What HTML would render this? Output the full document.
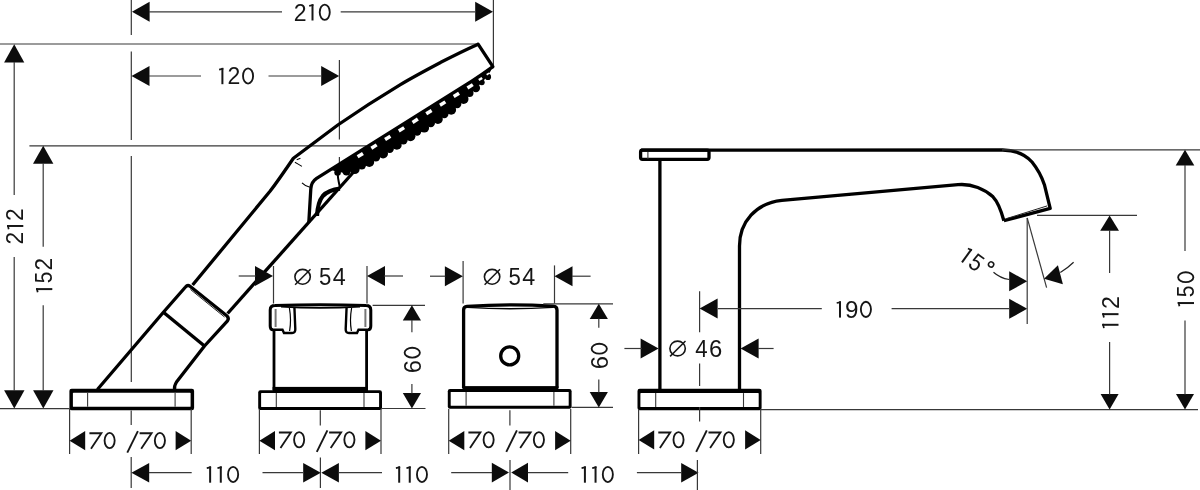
<!DOCTYPE html>
<html><head><meta charset="utf-8"><title>Dimension drawing</title>
<style>
html,body{margin:0;padding:0;background:#fff;}
body{width:1200px;height:490px;overflow:hidden;font-family:"Liberation Sans",sans-serif;}
svg{display:block;filter:grayscale(1);}
svg text{font-family:"Liberation Sans",sans-serif;fill:#161616;}
</style></head><body>
<svg width="1200" height="490" viewBox="0 0 1200 490">
<rect width="1200" height="490" fill="#fff"/>
<line x1="131.3" y1="0" x2="131.3" y2="35" stroke="#383838" stroke-width="1.2" />
<line x1="131.3" y1="51.5" x2="131.3" y2="140" stroke="#383838" stroke-width="1.2" />
<line x1="131.3" y1="156" x2="131.3" y2="382" stroke="#383838" stroke-width="1.2" />
<line x1="493.4" y1="0" x2="493.4" y2="65" stroke="#383838" stroke-width="1.2" />
<polygon points="132.0,11.8 149.6,1.8 149.6,21.8" fill="#0c0c0c"/>
<polygon points="493.0,11.8 475.2,1.8 475.2,21.8" fill="#0c0c0c"/>
<line x1="149" y1="11.8" x2="282" y2="11.8" stroke="#383838" stroke-width="1.2" />
<line x1="340.7" y1="11.8" x2="475.4" y2="11.8" stroke="#383838" stroke-width="1.2" />
<text transform="translate(293.64,20.50) scale(0.977,1.001)" font-size="23.6">2</text><path d="M312.50,20.50 L312.50,4.20" stroke="#161616" stroke-width="2" fill="none"/><path d="M309.20,5.90 L313.40,5.00" stroke="#161616" stroke-width="1.7" fill="none"/><ellipse cx="324.75" cy="12.25" rx="5.02" ry="7.63" fill="none" stroke="#161616" stroke-width="1.85"/>
<line x1="0" y1="44" x2="476" y2="44" stroke="#383838" stroke-width="1.2" />
<polygon points="131.5,76.0 149.5,66.0 149.5,86.0" fill="#0c0c0c"/>
<polygon points="339.2,76.0 321.2,66.0 321.2,86.0" fill="#0c0c0c"/>
<line x1="149" y1="76" x2="201" y2="76" stroke="#383838" stroke-width="1.2" />
<line x1="268.5" y1="76" x2="321" y2="76" stroke="#383838" stroke-width="1.2" />
<path d="M222.40,84.20 L222.40,67.90" stroke="#161616" stroke-width="2" fill="none"/><path d="M219.10,69.60 L223.30,68.70" stroke="#161616" stroke-width="1.7" fill="none"/><text transform="translate(227.54,84.20) scale(0.977,1.001)" font-size="23.6">2</text><ellipse cx="248.05" cy="75.95" rx="5.03" ry="7.63" fill="none" stroke="#161616" stroke-width="1.85"/>
<line x1="339.4" y1="60" x2="339.4" y2="139.4" stroke="#383838" stroke-width="1.2" />
<line x1="339.4" y1="157" x2="339.4" y2="166" stroke="#383838" stroke-width="1.2" />
<line x1="29.4" y1="145.8" x2="366.5" y2="145.8" stroke="#383838" stroke-width="1.2" />
<polygon points="14.2,44.3 4.1,62.5 24.3,62.5" fill="#0c0c0c"/>
<polygon points="14.3,408.6 4.1,390.2 24.5,390.2" fill="#0c0c0c"/>
<line x1="14.2" y1="62" x2="14.2" y2="195" stroke="#383838" stroke-width="1.2" />
<line x1="14.2" y1="257" x2="14.2" y2="391" stroke="#383838" stroke-width="1.2" />
<g transform="translate(23.3,243.4) rotate(-90)"><text transform="translate(-1.14,0.00) scale(0.962,1.001)" font-size="23.6">2</text><path d="M17.43,0.00 L17.43,-16.30" stroke="#161616" stroke-width="2" fill="none"/><path d="M14.19,-14.60 L18.33,-15.50" stroke="#161616" stroke-width="1.7" fill="none"/><text transform="translate(22.51,0.00) scale(0.962,1.001)" font-size="23.6">2</text></g>
<polygon points="43.2,145.8 33.0,163.8 53.4,163.8" fill="#0c0c0c"/>
<polygon points="43.3,408.6 33.1,390.2 53.5,390.2" fill="#0c0c0c"/>
<line x1="43.2" y1="163" x2="43.2" y2="246.7" stroke="#383838" stroke-width="1.2" />
<line x1="43.2" y1="305.3" x2="43.2" y2="391" stroke="#383838" stroke-width="1.2" />
<g transform="translate(52.3,292.3) rotate(-90)"><path d="M3.20,0.00 L3.20,-16.30" stroke="#161616" stroke-width="2" fill="none"/><path d="M0.00,-14.60 L4.10,-15.50" stroke="#161616" stroke-width="1.7" fill="none"/><text transform="translate(9.03,0.01) scale(0.881,1.032)" font-size="23.6">5</text><text transform="translate(21.72,0.00) scale(0.954,1.001)" font-size="23.6">2</text></g>
<line x1="0" y1="408.6" x2="69.6" y2="408.6" stroke="#383838" stroke-width="1.2" />
<path d="M478.1,44.2 L492.9,66.6" stroke="#000" stroke-width="3.3" fill="none" stroke-linecap="round"/>
<path d="M478.1,44.2 C466,49.6 453,56 440.8,62.3 C427,69.6 413,77 400,84.8 C378,98 358,111 337.8,125 L293.4,158.2 C288.5,165.3 279,179.5 270,191.3 L192.6,285" stroke="#000" stroke-width="3.3" fill="none" stroke-linejoin="round"/>
<path d="M492.9,66.6 Q482,74.5 471.8,81.2 L316.6,178.4 Q311.2,182 310.8,189 L308.8,222.5" stroke="#000" stroke-width="3.3" fill="none" stroke-linejoin="round"/>
<polygon points="490.4,69.5 484.5,73.2 478.6,77.0 472.6,80.7 466.7,84.4 460.8,88.1 454.8,91.8 448.9,95.5 443.0,99.2 437.1,103.0 431.1,106.7 425.2,110.4 419.3,114.1 413.3,117.8 407.4,121.5 401.5,125.3 395.5,129.0 389.6,132.7 383.7,136.4 377.7,140.1 371.8,143.8 365.9,147.5 359.9,151.3 354.0,155.0 348.1,158.7 342.1,162.4 336.2,166.1 330.3,169.8 330.3,169.8 334.5,170.9 338.7,172.0 342.5,172.4 346.3,172.8 349.2,171.8 352.2,170.9 355.1,169.9 357.9,168.7 360.6,167.4 363.3,166.0 366.0,164.7 368.7,163.4 371.3,161.9 373.8,160.3 376.4,158.7 378.9,157.1 381.5,155.5 384.0,153.9 386.5,152.3 389.1,150.7 391.6,149.1 394.2,147.5 396.7,145.9 399.2,144.3 401.8,142.7 404.3,141.2 406.9,139.6 409.4,138.0 412.0,136.4 414.5,134.8 417.0,133.2 419.6,131.6 422.1,130.0 424.7,128.4 427.2,126.8 429.8,125.2 432.3,123.6 434.8,122.0 437.4,120.5 439.8,118.7 442.3,117.0 444.8,115.3 447.2,113.6 449.7,111.9 452.2,110.1 454.6,108.3 456.8,106.2 459.1,104.2 461.3,102.1 463.6,100.1 465.8,98.0 468.1,95.9 470.3,93.8 472.5,91.7 474.7,89.5 476.9,87.4 479.0,85.2 481.2,83.0 483.3,80.8 485.5,78.5 487.5,76.1 489.2,73.2 491.0,70.4" fill="#000"/>
<circle cx="488.0" cy="76.9" r="3.1" fill="#000"/>
<circle cx="481.8" cy="82.3" r="2.9" fill="#000"/>
<circle cx="475.9" cy="88.1" r="4.2" fill="#000"/>
<circle cx="469.4" cy="93.0" r="4.1" fill="#000"/>
<circle cx="463.6" cy="99.0" r="4.9" fill="#000"/>
<circle cx="457.2" cy="104.1" r="4.2" fill="#000"/>
<circle cx="451.2" cy="109.8" r="4.9" fill="#000"/>
<circle cx="444.3" cy="114.0" r="4.2" fill="#000"/>
<circle cx="437.9" cy="119.1" r="4.9" fill="#000"/>
<circle cx="430.8" cy="123.0" r="4.2" fill="#000"/>
<circle cx="424.2" cy="127.7" r="4.9" fill="#000"/>
<circle cx="417.1" cy="131.6" r="4.2" fill="#000"/>
<circle cx="410.5" cy="136.3" r="4.9" fill="#000"/>
<circle cx="403.4" cy="140.2" r="4.2" fill="#000"/>
<circle cx="396.8" cy="144.9" r="4.9" fill="#000"/>
<circle cx="389.7" cy="148.8" r="4.2" fill="#000"/>
<circle cx="383.1" cy="153.5" r="4.9" fill="#000"/>
<circle cx="375.9" cy="157.4" r="4.2" fill="#000"/>
<circle cx="369.3" cy="162.1" r="4.9" fill="#000"/>
<circle cx="361.8" cy="165.3" r="4.2" fill="#000"/>
<circle cx="354.7" cy="169.2" r="4.9" fill="#000"/>
<circle cx="346.5" cy="171.4" r="4.2" fill="#000"/>
<circle cx="337.6" cy="172.5" r="3.3" fill="#000"/>
<polygon points="471.9,83.2 466.5,86.5 468.4,89.5 473.7,86.1" fill="#fff"/>
<polygon points="458.1,91.8 452.8,95.1 454.6,98.1 460.0,94.7" fill="#fff"/>
<polygon points="444.4,100.4 439.1,103.7 440.9,106.7 446.3,103.3" fill="#fff"/>
<polygon points="430.7,109.0 425.3,112.3 427.2,115.3 432.5,111.9" fill="#fff"/>
<polygon points="416.9,117.6 411.6,120.9 413.5,123.9 418.8,120.5" fill="#fff"/>
<polygon points="403.2,126.2 397.9,129.5 399.7,132.5 405.1,129.1" fill="#fff"/>
<polygon points="389.5,134.8 384.1,138.1 386.0,141.1 391.3,137.7" fill="#fff"/>
<polygon points="375.7,143.4 370.4,146.7 372.3,149.7 377.6,146.3" fill="#fff"/>
<polygon points="362.0,152.0 356.7,155.3 358.5,158.3 363.9,154.9" fill="#fff"/>
<polygon points="481.5,77.0 478.2,79.1 479.4,81.1 482.8,79.0" fill="#fff"/>
<polygon points="488.8,72.5 486.2,74.1 487.1,75.4 489.6,73.8" fill="#fff"/>
<path d="M354,171.5 L227.6,313.5" stroke="#000" stroke-width="3.3" fill="none" />
<path d="M340,188.6 C331,189.5 326,192.5 322.8,196 C319,200.5 317.4,208 317,216" stroke="#000" stroke-width="4.2" fill="none" />
<path d="M338.6,170 C336.5,175 338.5,180 339.6,186" stroke="#000" stroke-width="2" fill="none" />
<path d="M294.9,162.3 Q298,164 301.9,166.4" stroke="#000" stroke-width="1.1" fill="none" />
<path d="M296.7,159.7 L300.4,158.2" stroke="#000" stroke-width="1.1" fill="none" />
<path d="M302,182.9 Q305.5,186.5 310,187.2" stroke="#000" stroke-width="1.1" fill="none" />
<path d="M97.4,389.5 L163.4,312.3 L185.5,287 Q187.6,284.4 190,286.3 L226.5,315.5 Q229.5,318 227.5,320.8 L204.5,346 L176.5,382 Q174,386 174.6,389.5" stroke="#000" stroke-width="3.3" fill="none" stroke-linejoin="round"/>
<path d="M163.4,312.3 L204.5,346" stroke="#000" stroke-width="3.4" fill="none" />
<path d="M190.5,289.5 L224.5,317" stroke="#222" stroke-width="1.0" fill="none" />
<rect x="69.4" y="388.7" width="124.70" height="21.50" rx="2.2" fill="#000"/>
<rect x="72.90" y="392.8" width="117.70" height="14.00" rx="0.6" fill="#fff"/>
<line x1="87.6" y1="392.8" x2="87.6" y2="406.8" stroke="#383838" stroke-width="1.1" />
<line x1="175.1" y1="392.8" x2="175.1" y2="406.8" stroke="#383838" stroke-width="1.1" />
<line x1="69.6" y1="409" x2="69.6" y2="454" stroke="#383838" stroke-width="1.2" />
<line x1="191.2" y1="409" x2="191.2" y2="454" stroke="#383838" stroke-width="1.2" />
<polygon points="69.6,440.7 85.2,431.1 85.2,450.3" fill="#0c0c0c"/>
<polygon points="191.2,440.7 175.6,431.1 175.6,450.3" fill="#0c0c0c"/>
<path d="M89.40,433.25 L101.35,433.25 L91.00,448.80" fill="none" stroke="#161616" stroke-width="1.85" stroke-linejoin="miter" stroke-miterlimit="10"/><ellipse cx="109.63" cy="440.55" rx="5.05" ry="7.63" fill="none" stroke="#161616" stroke-width="1.85"/>
<line x1="127.30000000000001" y1="452.6" x2="137.89999999999998" y2="431.2" stroke="#161616" stroke-width="1.9" />
<path d="M139.60,433.25 L151.59,433.25 L141.20,448.80" fill="none" stroke="#161616" stroke-width="1.85" stroke-linejoin="miter" stroke-miterlimit="10"/><ellipse cx="159.90" cy="440.55" rx="5.07" ry="7.63" fill="none" stroke="#161616" stroke-width="1.85"/>
<line x1="131.2" y1="410.4" x2="131.2" y2="425" stroke="#383838" stroke-width="1.2" />
<line x1="131.2" y1="457" x2="131.2" y2="488" stroke="#383838" stroke-width="1.2" />
<polygon points="131.4,472.7 149.2,462.9 149.2,482.5" fill="#0c0c0c"/>
<polygon points="320.8,472.7 303.2,462.9 303.2,482.5" fill="#0c0c0c"/>
<line x1="149" y1="472.7" x2="191.7" y2="472.7" stroke="#383838" stroke-width="1.2" />
<line x1="262.5" y1="472.7" x2="303.4" y2="472.7" stroke="#383838" stroke-width="1.2" />
<path d="M210.13,482.70 L210.13,466.40" stroke="#161616" stroke-width="2" fill="none"/><path d="M206.80,468.10 L211.03,467.20" stroke="#161616" stroke-width="1.7" fill="none"/><path d="M220.79,482.70 L220.79,466.40" stroke="#161616" stroke-width="2" fill="none"/><path d="M217.47,468.10 L221.69,467.20" stroke="#161616" stroke-width="1.7" fill="none"/><ellipse cx="233.11" cy="474.45" rx="5.06" ry="7.63" fill="none" stroke="#161616" stroke-width="1.85"/>
<line x1="273.5" y1="266" x2="273.5" y2="303.5" stroke="#383838" stroke-width="1.2" />
<line x1="367" y1="266" x2="367" y2="303.5" stroke="#383838" stroke-width="1.2" />
<polygon points="273.0,276.0 255.0,266.0 255.0,286.0" fill="#0c0c0c"/>
<polygon points="367.0,276.0 385.0,266.0 385.0,286.0" fill="#0c0c0c"/>
<line x1="238.7" y1="276" x2="256" y2="276" stroke="#383838" stroke-width="1.2" />
<line x1="384" y1="276" x2="403" y2="276" stroke="#383838" stroke-width="1.2" />
<ellipse cx="302.6" cy="276.8" rx="7.7" ry="7.4" fill="none" stroke="#161616" stroke-width="1.6"/>
<line x1="295.1" y1="284.7" x2="310.5" y2="269.3" stroke="#161616" stroke-width="1.5" />
<text transform="translate(319.01,285.01) scale(0.940,1.032)" font-size="23.6">5</text><text transform="translate(332.80,285.00) scale(0.989,1.016)" font-size="23.6">4</text>
<path d="M274,331 L274,390 M366.6,331 L366.6,390" stroke="#000" stroke-width="2.8" fill="none" />
<rect x="272.6" y="386.9" width="95.4" height="5" fill="#000"/>
<path d="M273,329.8 Q270.2,329.8 270.2,326 L270.2,310 Q270.2,305.6 275,305.6 Q320,303.8 366,305.6 Q370.8,305.6 370.8,310 L370.8,326 Q370.8,329.8 368,329.8" stroke="#000" stroke-width="3.0" fill="none" />
<path d="M281,306.6 Q320,309.2 360,306.6" stroke="#000" stroke-width="1.8" fill="none" />
<path d="M273,329.8 L282.5,329.8 L284,333 L292,333 Q295.5,333 295.3,329 L294.4,307 " stroke="#000" stroke-width="2.4" fill="none" />
<path d="M289.4,308 Q291.5,320 289.6,331" stroke="#000" stroke-width="1.2" fill="none" />
<path d="M275.6,309 L275.6,327" stroke="#777" stroke-width="2.0" fill="none" />
<path d="M368,329.8 L358.5,329.8 L357,333 L349,333 Q345.5,333 345.7,329 L346.6,307" stroke="#000" stroke-width="2.4" fill="none" />
<path d="M351.6,308 Q349.5,320 351.4,331" stroke="#000" stroke-width="1.2" fill="none" />
<path d="M365.4,309 L365.4,327" stroke="#777" stroke-width="2.0" fill="none" />
<rect x="258.2" y="390.2" width="123.80" height="19.70" rx="2.2" fill="#000"/>
<rect x="261.10" y="393.1" width="118.00" height="13.90" rx="0.6" fill="#fff"/>
<line x1="276.3" y1="393.1" x2="276.3" y2="407.0" stroke="#383838" stroke-width="1.1" />
<line x1="364.0" y1="393.1" x2="364.0" y2="407.0" stroke="#383838" stroke-width="1.1" />
<line x1="372.6" y1="305.3" x2="425" y2="305.3" stroke="#383838" stroke-width="1.2" />
<line x1="382" y1="408.5" x2="425.5" y2="408.5" stroke="#383838" stroke-width="1.2" />
<polygon points="411.9,305.3 402.8,320.6 421.0,320.6" fill="#0c0c0c"/>
<polygon points="411.9,408.5 402.8,393.1 421.0,393.1" fill="#0c0c0c"/>
<line x1="411.9" y1="320" x2="411.9" y2="332.3" stroke="#383838" stroke-width="1.2" />
<line x1="411.9" y1="384" x2="411.9" y2="393.5" stroke="#383838" stroke-width="1.2" />
<g transform="translate(420.5,372.0) rotate(-90)"><text transform="translate(-1.20,0.02) scale(1.003,1.017)" font-size="23.6">6</text><ellipse cx="19.34" cy="-8.25" rx="4.93" ry="7.63" fill="none" stroke="#161616" stroke-width="1.85"/></g>
<line x1="259.4" y1="409" x2="259.4" y2="454" stroke="#383838" stroke-width="1.2" />
<line x1="381" y1="409" x2="381" y2="454" stroke="#383838" stroke-width="1.2" />
<polygon points="259.4,440.7 275.0,431.1 275.0,450.3" fill="#0c0c0c"/>
<polygon points="381.0,440.7 365.4,431.1 365.4,450.3" fill="#0c0c0c"/>
<path d="M278.90,432.45 L290.85,432.45 L280.50,448.00" fill="none" stroke="#161616" stroke-width="1.85" stroke-linejoin="miter" stroke-miterlimit="10"/><ellipse cx="299.13" cy="439.75" rx="5.05" ry="7.63" fill="none" stroke="#161616" stroke-width="1.85"/>
<line x1="316.8" y1="451.8" x2="327.4" y2="430.4" stroke="#161616" stroke-width="1.9" />
<path d="M329.10,432.45 L341.09,432.45 L330.70,448.00" fill="none" stroke="#161616" stroke-width="1.85" stroke-linejoin="miter" stroke-miterlimit="10"/><ellipse cx="349.40" cy="439.75" rx="5.07" ry="7.63" fill="none" stroke="#161616" stroke-width="1.85"/>
<line x1="320.3" y1="410.3" x2="320.3" y2="425.4" stroke="#383838" stroke-width="1.2" />
<line x1="320.4" y1="457.5" x2="320.4" y2="488" stroke="#383838" stroke-width="1.2" />
<polygon points="321.3,472.7 338.9,462.9 338.9,482.5" fill="#0c0c0c"/>
<polygon points="509.0,472.6 491.8,462.8 491.8,482.4" fill="#0c0c0c"/>
<line x1="338.8" y1="472.7" x2="382" y2="472.7" stroke="#383838" stroke-width="1.2" />
<line x1="451.2" y1="472.7" x2="492" y2="472.7" stroke="#383838" stroke-width="1.2" />
<path d="M399.19,482.70 L399.19,466.40" stroke="#161616" stroke-width="2" fill="none"/><path d="M395.90,468.10 L400.09,467.20" stroke="#161616" stroke-width="1.7" fill="none"/><path d="M409.75,482.70 L409.75,466.40" stroke="#161616" stroke-width="2" fill="none"/><path d="M406.47,468.10 L410.65,467.20" stroke="#161616" stroke-width="1.7" fill="none"/><ellipse cx="421.97" cy="474.45" rx="5.01" ry="7.63" fill="none" stroke="#161616" stroke-width="1.85"/>
<line x1="463.1" y1="261" x2="463.1" y2="303.5" stroke="#383838" stroke-width="1.2" />
<line x1="554.5" y1="265.4" x2="554.5" y2="303.5" stroke="#383838" stroke-width="1.2" />
<polygon points="462.9,276.2 444.9,266.2 444.9,286.2" fill="#0c0c0c"/>
<polygon points="554.5,276.2 572.5,266.2 572.5,286.2" fill="#0c0c0c"/>
<line x1="430" y1="276.2" x2="445.4" y2="276.2" stroke="#383838" stroke-width="1.2" />
<line x1="572" y1="276.2" x2="590.6" y2="276.2" stroke="#383838" stroke-width="1.2" />
<ellipse cx="492.1" cy="276.8" rx="7.7" ry="7.4" fill="none" stroke="#161616" stroke-width="1.6"/>
<line x1="484.6" y1="284.7" x2="500.0" y2="269.3" stroke="#161616" stroke-width="1.5" />
<text transform="translate(508.51,285.01) scale(0.940,1.032)" font-size="23.6">5</text><text transform="translate(522.30,285.00) scale(0.989,1.016)" font-size="23.6">4</text>
<path d="M463.6,388 L463.6,310 Q463.6,306.6 467,306.4 Q510,303.4 553,306.2 Q557,306.4 557,310 L557,388" stroke="#000" stroke-width="3.3" fill="none" />
<path d="M467,307.4 Q510,310 553,307.4" stroke="#000" stroke-width="1.4" fill="none" />
<rect x="462.4" y="386.1" width="96" height="4.6" fill="#000"/>
<circle cx="509.7" cy="355.9" r="9" fill="none" stroke="#000" stroke-width="3.3"/>
<rect x="447.8" y="389.1" width="123.80" height="19.60" rx="2.2" fill="#000"/>
<rect x="450.70" y="391.9" width="118.00" height="13.90" rx="0.6" fill="#fff"/>
<line x1="466.1" y1="391.9" x2="466.1" y2="405.8" stroke="#383838" stroke-width="1.1" />
<line x1="553.9" y1="391.9" x2="553.9" y2="405.8" stroke="#383838" stroke-width="1.1" />
<line x1="543.3" y1="303.8" x2="613" y2="303.8" stroke="#383838" stroke-width="1.2" />
<line x1="571.5" y1="407.4" x2="613" y2="407.4" stroke="#383838" stroke-width="1.2" />
<polygon points="598.8,303.8 589.7,319.1 607.9,319.1" fill="#0c0c0c"/>
<polygon points="598.8,407.4 589.7,392.0 607.9,392.0" fill="#0c0c0c"/>
<line x1="598.8" y1="318.5" x2="598.8" y2="327.8" stroke="#383838" stroke-width="1.2" />
<line x1="598.8" y1="379.5" x2="598.8" y2="392.4" stroke="#383838" stroke-width="1.2" />
<g transform="translate(607.5,368.1) rotate(-90)"><text transform="translate(-1.21,0.02) scale(1.007,1.017)" font-size="23.6">6</text><ellipse cx="19.42" cy="-8.25" rx="4.96" ry="7.63" fill="none" stroke="#161616" stroke-width="1.85"/></g>
<line x1="448.7" y1="409" x2="448.7" y2="454" stroke="#383838" stroke-width="1.2" />
<line x1="570.7" y1="409" x2="570.7" y2="454" stroke="#383838" stroke-width="1.2" />
<polygon points="448.7,440.7 464.3,431.1 464.3,450.3" fill="#0c0c0c"/>
<polygon points="570.7,440.7 555.1,431.1 555.1,450.3" fill="#0c0c0c"/>
<path d="M468.40,432.45 L480.35,432.45 L470.00,448.00" fill="none" stroke="#161616" stroke-width="1.85" stroke-linejoin="miter" stroke-miterlimit="10"/><ellipse cx="488.63" cy="439.75" rx="5.05" ry="7.63" fill="none" stroke="#161616" stroke-width="1.85"/>
<line x1="506.3" y1="451.8" x2="516.9" y2="430.4" stroke="#161616" stroke-width="1.9" />
<path d="M518.60,432.45 L530.59,432.45 L520.20,448.00" fill="none" stroke="#161616" stroke-width="1.85" stroke-linejoin="miter" stroke-miterlimit="10"/><ellipse cx="538.90" cy="439.75" rx="5.07" ry="7.63" fill="none" stroke="#161616" stroke-width="1.85"/>
<line x1="509.9" y1="410.3" x2="509.9" y2="425.4" stroke="#383838" stroke-width="1.2" />
<line x1="510" y1="460" x2="510" y2="490" stroke="#383838" stroke-width="1.2" />
<polygon points="511.2,472.6 528.0,462.8 528.0,482.4" fill="#0c0c0c"/>
<polygon points="698.6,472.7 681.2,462.9 681.2,482.5" fill="#0c0c0c"/>
<line x1="527.8" y1="472.7" x2="568.2" y2="472.7" stroke="#383838" stroke-width="1.2" />
<line x1="636.9" y1="472.7" x2="681.3" y2="472.7" stroke="#383838" stroke-width="1.2" />
<path d="M584.91,482.70 L584.91,466.40" stroke="#161616" stroke-width="2" fill="none"/><path d="M581.60,468.10 L585.81,467.20" stroke="#161616" stroke-width="1.7" fill="none"/><path d="M595.55,482.70 L595.55,466.40" stroke="#161616" stroke-width="2" fill="none"/><path d="M592.23,468.10 L596.45,467.20" stroke="#161616" stroke-width="1.7" fill="none"/><ellipse cx="607.83" cy="474.45" rx="5.04" ry="7.63" fill="none" stroke="#161616" stroke-width="1.85"/>
<rect x="640.6" y="150.2" width="68.4" height="9.2" rx="1.8" fill="none" stroke="#000" stroke-width="3.3"/>
<line x1="647.9" y1="151" x2="647.9" y2="159" stroke="#383838" stroke-width="1.1" />
<path d="M659.9,160 L659.9,391" stroke="#000" stroke-width="3.3" fill="none" />
<path d="M641,150.2 L1002.6,150 C1016,150.3 1026,155 1032,162 C1038,169.5 1041.5,176 1044.4,184.7 L1050.2,208.4 L1003.9,220.7" stroke="#000" stroke-width="3.3" fill="none" stroke-linejoin="round"/>
<path d="M739.5,391 L739.5,246 C739.5,222 756,203 781.9,200.4 L958,184.7 C972,183.4 985,189.5 993,196.8 C998.5,202.5 1001,210 1003.9,220.7" stroke="#000" stroke-width="3.3" fill="none" />
<path d="M1006.5,218.6 L1047.2,205.9" stroke="#222" stroke-width="1.0" fill="none" />
<rect x="637.5" y="388.7" width="124.10" height="21.60" rx="2.2" fill="#000"/>
<rect x="640.40" y="393.1" width="118.30" height="13.90" rx="0.6" fill="#fff"/>
<line x1="655.7" y1="393.1" x2="655.7" y2="407.0" stroke="#383838" stroke-width="1.1" />
<line x1="743.5" y1="393.1" x2="743.5" y2="407.0" stroke="#383838" stroke-width="1.1" />
<line x1="761" y1="409.6" x2="1198" y2="409.6" stroke="#383838" stroke-width="1.2" />
<line x1="699.6" y1="291.2" x2="699.6" y2="332.3" stroke="#383838" stroke-width="1.2" />
<line x1="699.6" y1="363.4" x2="699.6" y2="386" stroke="#383838" stroke-width="1.2" />
<line x1="699.6" y1="407" x2="699.6" y2="421.5" stroke="#383838" stroke-width="1.2" />
<line x1="697.4" y1="460" x2="697.4" y2="490" stroke="#383838" stroke-width="1.2" />
<polygon points="658.6,348.5 640.6,338.5 640.6,358.5" fill="#0c0c0c"/>
<polygon points="740.6,348.5 758.6,338.5 758.6,358.5" fill="#0c0c0c"/>
<line x1="624.4" y1="348.5" x2="641.8" y2="348.5" stroke="#383838" stroke-width="1.2" />
<line x1="758" y1="348.5" x2="773.6" y2="348.5" stroke="#383838" stroke-width="1.2" />
<ellipse cx="677.6" cy="348.5" rx="7.7" ry="7.4" fill="none" stroke="#161616" stroke-width="1.6"/>
<line x1="670.1" y1="356.4" x2="685.5" y2="341.0" stroke="#161616" stroke-width="1.5" />
<text transform="translate(695.29,356.80) scale(0.943,1.016)" font-size="23.6">4</text><text transform="translate(708.88,356.82) scale(1.011,1.017)" font-size="23.6">6</text>
<polygon points="699.6,308.6 717.6,298.6 717.6,318.6" fill="#0c0c0c"/>
<polygon points="1027.2,308.8 1009.2,298.8 1009.2,318.8" fill="#0c0c0c"/>
<line x1="717.8" y1="308.6" x2="821.8" y2="308.6" stroke="#383838" stroke-width="1.2" />
<line x1="891.6" y1="308.6" x2="1009.2" y2="308.6" stroke="#383838" stroke-width="1.2" />
<path d="M840.02,317.60 L840.02,301.30" stroke="#161616" stroke-width="2" fill="none"/><path d="M836.70,303.00 L840.92,302.10" stroke="#161616" stroke-width="1.7" fill="none"/><text transform="translate(845.02,317.62) scale(1.024,1.017)" font-size="23.6">9</text><ellipse cx="865.92" cy="309.35" rx="5.06" ry="7.63" fill="none" stroke="#161616" stroke-width="1.85"/>
<line x1="1027.2" y1="217.9" x2="1027.2" y2="324" stroke="#383838" stroke-width="1.2" />
<line x1="1027.2" y1="217.9" x2="1046.6" y2="287.7" stroke="#383838" stroke-width="1.2" />
<polygon points="1027.2,281.3 1009.2,271.3 1009.2,291.3" fill="#0c0c0c"/>
<polygon points="1044.0,278.7 1057.9,265.3 1062.9,284.3" fill="#0c0c0c"/>
<path d="M993.5,272.2 Q1000,278 1009.2,279.5" stroke="#222" stroke-width="1.2" fill="none" />
<path d="M1060.3,272.4 Q1067.5,268.2 1073.6,262.2" stroke="#222" stroke-width="1.2" fill="none" />
<g transform="translate(962,262.3) rotate(36)"><path d="M-0.00,0.00 L-0.00,-16.30" stroke="#161616" stroke-width="2" fill="none"/><path d="M-3.30,-14.60 L0.90,-15.50" stroke="#161616" stroke-width="1.7" fill="none"/><text transform="translate(5.95,0.01) scale(0.903,1.032)" font-size="23.6">5</text><circle cx="24.8" cy="-15.4" r="2.6" fill="none" stroke="#161616" stroke-width="1.5"/></g>
<line x1="1037" y1="215.4" x2="1137" y2="215.4" stroke="#383838" stroke-width="1.2" />
<polygon points="1109.6,215.4 1100.2,230.8 1119.0,230.8" fill="#0c0c0c"/>
<polygon points="1109.6,409.6 1100.6,394.0 1118.6,394.0" fill="#0c0c0c"/>
<line x1="1109.6" y1="230" x2="1109.6" y2="273" stroke="#383838" stroke-width="1.2" />
<line x1="1109.6" y1="342" x2="1109.6" y2="394.5" stroke="#383838" stroke-width="1.2" />
<g transform="translate(1118.5,328.1) rotate(-90)"><path d="M3.31,0.00 L3.31,-16.30" stroke="#161616" stroke-width="2" fill="none"/><path d="M0.00,-14.60 L4.21,-15.50" stroke="#161616" stroke-width="1.7" fill="none"/><path d="M13.95,0.00 L13.95,-16.30" stroke="#161616" stroke-width="2" fill="none"/><path d="M10.63,-14.60 L14.85,-15.50" stroke="#161616" stroke-width="1.7" fill="none"/><text transform="translate(19.10,0.00) scale(0.980,1.001)" font-size="23.6">2</text></g>
<line x1="1002" y1="149.8" x2="1200" y2="149.8" stroke="#383838" stroke-width="1.2" />
<polygon points="1185.0,149.8 1175.7,165.6 1194.3,165.6" fill="#0c0c0c"/>
<polygon points="1185.0,409.6 1176.0,394.0 1194.0,394.0" fill="#0c0c0c"/>
<line x1="1185" y1="165" x2="1185" y2="251" stroke="#383838" stroke-width="1.2" />
<line x1="1185" y1="320.4" x2="1185" y2="394.5" stroke="#383838" stroke-width="1.2" />
<g transform="translate(1194.0,306.3) rotate(-90)"><path d="M3.26,0.00 L3.26,-16.30" stroke="#161616" stroke-width="2" fill="none"/><path d="M0.00,-14.60 L4.16,-15.50" stroke="#161616" stroke-width="1.7" fill="none"/><text transform="translate(9.17,0.01) scale(0.895,1.032)" font-size="23.6">5</text><ellipse cx="29.10" cy="-8.25" rx="4.97" ry="7.63" fill="none" stroke="#161616" stroke-width="1.85"/></g>
<line x1="638.6" y1="409" x2="638.6" y2="454" stroke="#383838" stroke-width="1.2" />
<line x1="760.7" y1="409" x2="760.7" y2="454" stroke="#383838" stroke-width="1.2" />
<polygon points="638.6,439.9 654.2,430.3 654.2,449.5" fill="#0c0c0c"/>
<polygon points="760.7,439.9 745.1,430.3 745.1,449.5" fill="#0c0c0c"/>
<path d="M658.30,432.45 L670.25,432.45 L659.90,448.00" fill="none" stroke="#161616" stroke-width="1.85" stroke-linejoin="miter" stroke-miterlimit="10"/><ellipse cx="678.53" cy="439.75" rx="5.05" ry="7.63" fill="none" stroke="#161616" stroke-width="1.85"/>
<line x1="696.2" y1="451.8" x2="706.8" y2="430.4" stroke="#161616" stroke-width="1.9" />
<path d="M708.50,432.45 L720.49,432.45 L710.10,448.00" fill="none" stroke="#161616" stroke-width="1.85" stroke-linejoin="miter" stroke-miterlimit="10"/><ellipse cx="728.80" cy="439.75" rx="5.07" ry="7.63" fill="none" stroke="#161616" stroke-width="1.85"/>
</svg>
</body></html>
